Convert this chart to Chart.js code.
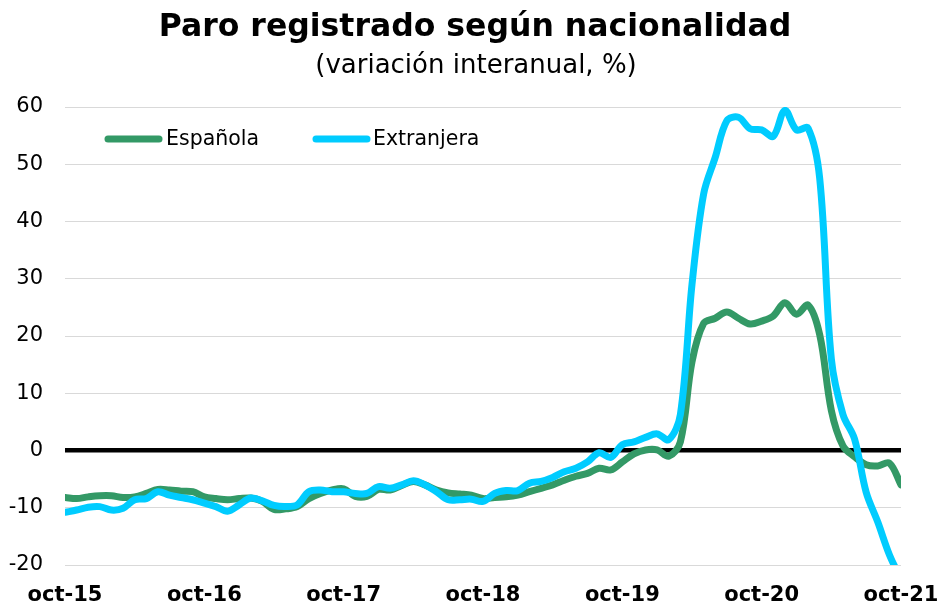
<!DOCTYPE html>
<html><head><meta charset="utf-8">
<script src="https://cdn.jsdelivr.net/npm/chart.js@4.4.1/dist/chart.umd.min.js"></script>
<style>html,body{margin:0;padding:0;background:#fff;}</style>
</head><body>
<canvas id="c" width="938" height="605"></canvas>
<script>
const titleText = 'Paro registrado según nacionalidad';
const subtitleText = '(variación interanual, %)';

const months = [
 'oct-15','nov-15','dic-15','ene-16','feb-16','mar-16','abr-16','may-16','jun-16','jul-16','ago-16','sep-16',
 'oct-16','nov-16','dic-16','ene-17','feb-17','mar-17','abr-17','may-17','jun-17','jul-17','ago-17','sep-17',
 'oct-17','nov-17','dic-17','ene-18','feb-18','mar-18','abr-18','may-18','jun-18','jul-18','ago-18','sep-18',
 'oct-18','nov-18','dic-18','ene-19','feb-19','mar-19','abr-19','may-19','jun-19','jul-19','ago-19','sep-19',
 'oct-19','nov-19','dic-19','ene-20','feb-20','mar-20','abr-20','may-20','jun-20','jul-20','ago-20','sep-20',
 'oct-20','nov-20','dic-20','ene-21','feb-21','mar-21','abr-21','may-21','jun-21','jul-21','ago-21','sep-21',
 'oct-21'];

const xTickLabels = ['oct-15','oct-16','oct-17','oct-18','oct-19','oct-20','oct-21'];
const yTicks = [-20,-10,0,10,20,30,40,50,60];

const espanola = [
 -8.2,-8.4,-8.1,-7.9,-7.9,-8.2,-8.1,-7.5,-6.8,-6.9,-7.1,-7.2,
 -8.1,-8.4,-8.6,-8.4,-8.3,-8.9,-10.3,-10.2,-9.8,-8.4,-7.5,-6.9,
 -6.7,-8.0,-8.0,-6.8,-6.9,-6.1,-5.4,-6.0,-6.9,-7.4,-7.6,-7.8,
 -8.4,-8.2,-8.1,-7.8,-7.2,-6.6,-6.0,-5.2,-4.5,-4.0,-3.1,-3.4,
 -2.0,-0.6,0.1,0.1,-1.0,1.5,15.5,22.2,23.1,24.2,23.1,22.1,
 22.6,23.5,25.8,23.8,25.4,20.2,7.0,0.8,-1.1,-2.5,-2.7,-2.2,
 -6.0];

const extranjera = [
 -10.8,-10.4,-9.9,-9.8,-10.4,-10.1,-8.6,-8.4,-7.2,-7.8,-8.2,-8.6,
 -9.2,-9.8,-10.6,-9.5,-8.3,-8.8,-9.6,-9.8,-9.5,-7.2,-6.9,-7.2,
 -7.2,-7.5,-7.5,-6.3,-6.6,-6.0,-5.3,-6.0,-7.2,-8.6,-8.6,-8.5,
 -8.9,-7.5,-7.0,-7.0,-5.7,-5.4,-4.7,-3.7,-3.1,-2.0,-0.4,-1.2,
 1.0,1.5,2.3,2.9,1.9,6.3,29.0,44.8,51.2,57.6,58.2,56.2,
 56.0,54.9,59.4,56.0,56.3,47.5,16.0,6.3,2.0,-7.3,-12.5,-18.2,
 -22.5];

const FONT = '"DejaVu Sans", Verdana, sans-serif';

const overlay = {
  id: 'overlay',
  afterDraw(chart) {
    const ctx = chart.ctx;
    ctx.save();
    ctx.fillStyle = '#000';
    ctx.textAlign = 'center';
    ctx.textBaseline = 'middle';
    ctx.font = 'bold 31.5px ' + FONT;
    ctx.fillText(titleText, 475, 28);
    ctx.font = '26px ' + FONT;
    ctx.fillText(subtitleText, 476, 66);
    const items = [
      {ds: chart.data.datasets[0], x0: 105, x1: 162, tx: 166},
      {ds: chart.data.datasets[1], x0: 313, x1: 370, tx: 373}
    ];
    const ly = 139;
    items.forEach(it => {
      ctx.strokeStyle = it.ds.borderColor;
      ctx.lineWidth = 7;
      ctx.lineCap = 'round';
      ctx.beginPath();
      ctx.moveTo(it.x0 + 3, ly);
      ctx.lineTo(it.x1 - 3, ly);
      ctx.stroke();
      ctx.fillStyle = '#000';
      ctx.textAlign = 'left';
      ctx.font = '20.5px ' + FONT;
      ctx.fillText(it.ds.label, it.tx, ly + 1);
    });
    ctx.restore();
  }
};

const xSet = new Set(xTickLabels);

new Chart(document.getElementById('c'), {
  type: 'line',
  data: {
    labels: months,
    datasets: [
      {label: 'Española', data: espanola, borderColor: '#339966', backgroundColor: '#339966',
       borderWidth: 7, pointRadius: 0, tension: 0.35, clip: 0, order: 2, borderCapStyle: 'round', borderJoinStyle: 'round'},
      {label: 'Extranjera', data: extranjera, borderColor: '#00CCFF', backgroundColor: '#00CCFF',
       borderWidth: 7, pointRadius: 0, tension: 0.35, clip: 0, order: 1, borderCapStyle: 'round', borderJoinStyle: 'round'}
    ]
  },
  options: {
    responsive: false,
    animation: false,
    devicePixelRatio: 1,
    layout: {padding: {top: 107, right: 37, bottom: 0, left: 0}},
    plugins: {legend: {display: false}, title: {display: false}, tooltip: {enabled: false}},
    scales: {
      x: {
        grid: {display: false},
        border: {display: false},
        ticks: {
          autoSkip: false, maxRotation: 0, minRotation: 0, padding: 10,
          color: '#000', font: {family: FONT, size: 21, weight: 'bold'},
          callback: function(v, i) { const l = months[i]; return xSet.has(l) ? l : ''; }
        },
        afterFit(scale) { scale.height = 40; scale.paddingLeft = 0; scale.paddingRight = 0; }
      },
      y: {
        min: yTicks[0], max: yTicks[yTicks.length - 1],
        afterBuildTicks(scale) { scale.ticks = yTicks.map(v => ({value: v})); },
        grid: {
          drawTicks: false,
          color: c => (c.tick && c.tick.value === 0) ? '#000000' : '#d9d9d9',
          lineWidth: c => (c.tick && c.tick.value === 0) ? 4.5 : 1
        },
        border: {display: false},
        ticks: {padding: 22, color: '#000', font: {family: FONT, size: 21}},
        afterFit(scale) { scale.width = 65; }
      }
    }
  },
  plugins: [overlay]
});
</script>
</body></html>
